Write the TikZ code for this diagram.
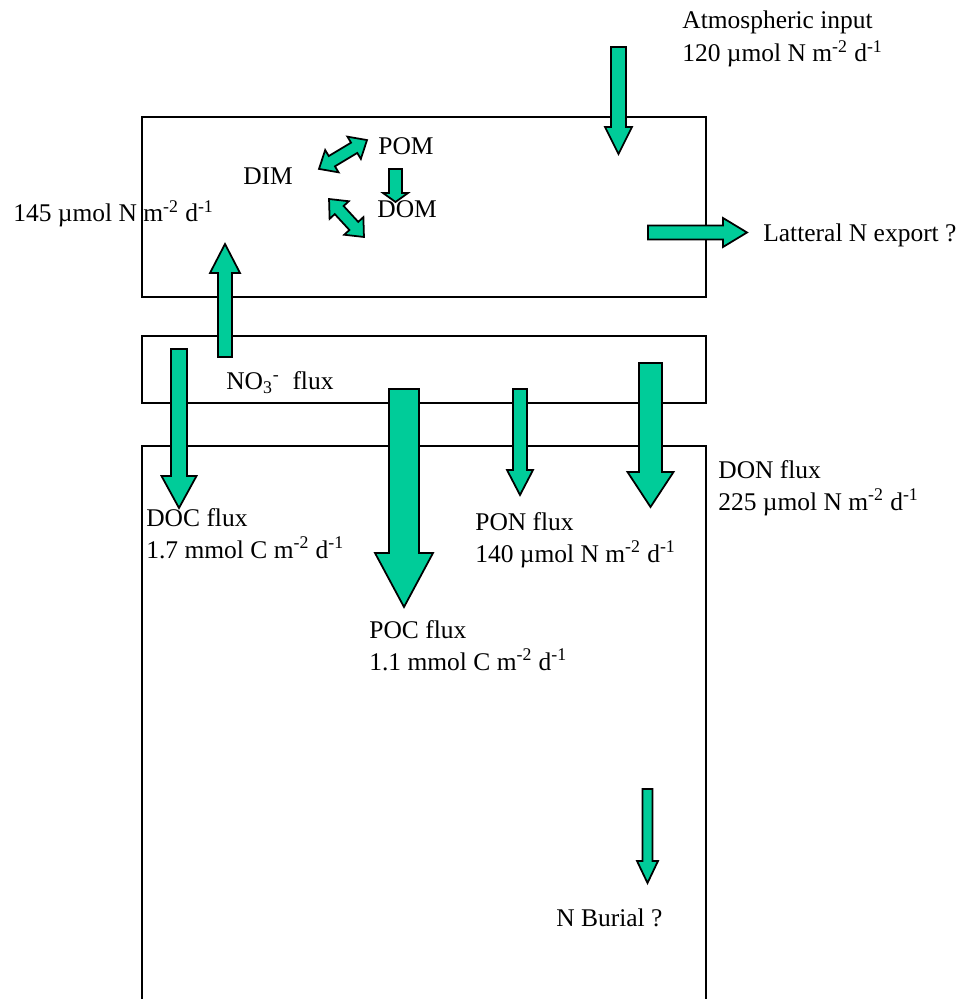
\documentclass[tikz,border=0pt]{standalone}
\usepackage{fontspec}
\setmainfont{Liberation Serif}
\definecolor{fluxgreen}{RGB}{0,204,153}

% vertical block arrow: x, y tail, y head base, y tip, half shaft, half head
\newcommand{\vflux}[6]{\draw[flux] (#1-#5,#2) -- (#1-#5,#3) -- (#1-#6,#3) -- (#1,#4) -- (#1+#6,#3) -- (#1+#5,#3) -- (#1+#5,#2) -- cycle;}
% horizontal block arrow: y, x tail, x head base, x tip, half shaft, half head
\newcommand{\hflux}[6]{\draw[flux] (#2,#1-#5) -- (#3,#1-#5) -- (#3,#1-#6) -- (#4,#1) -- (#3,#1+#6) -- (#3,#1+#5) -- (#2,#1+#5) -- cycle;}
% two-headed block arrow: centre x, centre y, angle, half length, half shaft, half head, head length
\newcommand{\dflux}[7]{\draw[flux, shift={(#1,#2)}, rotate=#3] (-#4,0) -- (-#4+#7,#6) -- (-#4+#7,#5) -- (#4-#7,#5) -- (#4-#7,#6) -- (#4,0) -- (#4-#7,-#6) -- (#4-#7,-#5) -- (-#4+#7,-#5) -- (-#4+#7,-#6) -- cycle;}

\begin{document}
\begin{tikzpicture}
[
    x=0.02cm, y=-0.02cm,
    layer/.style={draw, line width=1pt},
    flux/.style={draw=black, fill=fluxgreen, line width=1pt, line join=miter},
    lbl/.style={anchor=base west, inner sep=0pt, font=\fontsize{14.5}{16}\selectfont}
]
    \useasboundingbox (0,0) rectangle (962,999);

    % layers
    \draw[layer] (142,117) rectangle (706,297);
    \draw[layer] (142,336) rectangle (706,403);
    \draw[layer] (142,999) -- (142,446) -- (706,446) -- (706,999);

    % labels
    \node[lbl] (atm) at (682,29) {Atmospheric input};
    \node[lbl] (atmval) at (682,62) {120 µmol N m\textsuperscript{-2} d\textsuperscript{-1}};
    \node[lbl] (pom) at (378,155) {POM};
    \node[lbl] (dim) at (243,185) {DIM};
    \node[lbl] (dom) at (377,218) {DOM};
    \node[lbl] (upval) at (13,222) {145 µmol N m\textsuperscript{-2} d\textsuperscript{-1}};
    \node[lbl] (lat) at (763,242) {Latteral N export ?};
    \node[lbl] (no3) at (226,390) {NO\textsubscript{3}\textsuperscript{-}\ \ flux};
    \node[lbl] (doc) at (146,526) {DOC flux};
    \node[lbl] (docval) at (146,558) {1.7 mmol C m\textsuperscript{-2} d\textsuperscript{-1}};
    \node[lbl] (poc) at (369,638) {POC flux};
    \node[lbl] (pocval) at (369,670) {1.1 mmol C m\textsuperscript{-2} d\textsuperscript{-1}};
    \node[lbl] (pon) at (475,530) {PON flux};
    \node[lbl] (ponval) at (475,562) {140 µmol N m\textsuperscript{-2} d\textsuperscript{-1}};
    \node[lbl] (don) at (718,478) {DON flux};
    \node[lbl] (donval) at (718,510) {225 µmol N m\textsuperscript{-2} d\textsuperscript{-1}};
    \node[lbl] (burial) at (556,926) {N Burial ?};

    % fluxes
    \vflux{618.5}{47}{127}{154}{7.5}{13.5}
    \hflux{232.5}{648}{723}{747}{7}{14.5}
    \vflux{225}{357}{273}{244}{7}{15}
    \vflux{179}{349}{476}{508}{8}{17.5}
    \vflux{404}{389}{553}{607}{15}{29}
    \vflux{520}{389}{470}{495}{7}{13}
    \vflux{650.5}{363}{472}{507}{11.5}{23}
    \vflux{647.5}{789}{861}{883}{5}{10.5}
    \vflux{395.5}{169}{193}{202}{6.5}{12.5}
    \dflux{343}{154.5}{31}{28}{6}{13}{15}
    \dflux{346.5}{218}{-47.4}{25.8}{6}{13}{15}
\end{tikzpicture}
\end{document}
